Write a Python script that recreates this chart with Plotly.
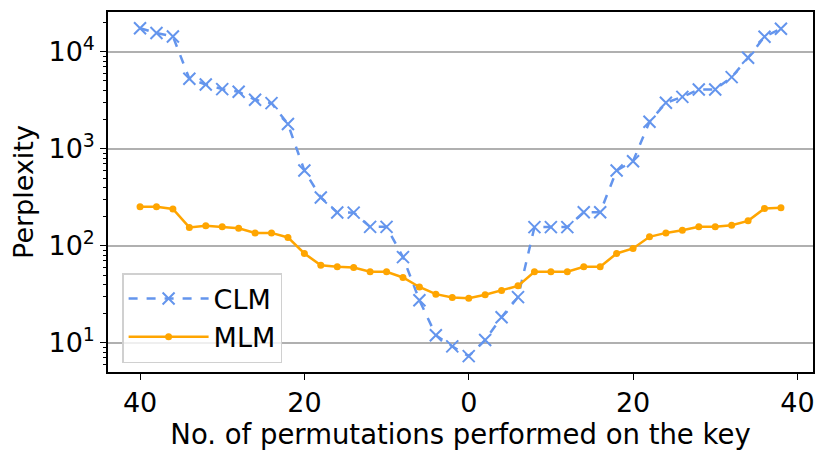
import plotly.graph_objects as go

x_pos = list(range(-40, 40, 2))
clm = [17500, 15600, 14400, 5270, 4600, 4120, 3870, 3200, 2960, 1800,
       597, 315, 221, 220, 157, 157, 76.5, 27.5, 12.0, 9.2,
       7.3, 10.7, 18.4, 29.6, 156, 156, 156, 222, 222, 597,
       746, 1900, 2980, 3430, 4090, 4090, 5480, 8670, 14300, 17300]
mlm = [253, 253, 240, 155, 161, 157, 152, 136, 136, 122,
       83.5, 63.2, 60.8, 59.8, 54, 54, 47.2, 37.7, 31.8, 29.4,
       28.9, 31.3, 34.7, 38.7, 54, 54, 54, 60.8, 60.8, 83.5,
       94, 124, 136, 145, 157, 157, 163, 181, 243, 247]
xtick_vals = [-40, -20, 0, 20, 40]
xtick_text = ["40", "20", "0", "20", "40"]
ytick_vals = [10, 100, 1000, 10000]
ytick_text = ["10<sup>1</sup>", "10<sup>2</sup>", "10<sup>3</sup>", "10<sup>4</sup>"]
minor_vals = [m * 10 ** e for e in range(0, 5) for m in range(2, 10)]

fig = go.Figure()
fig.add_trace(go.Scatter(
    x=x_pos, y=clm, name="CLM", mode="lines+markers", legendgroup="a",
    line=dict(color="#6495ED", width=2.5, dash="dash"),
    marker=dict(symbol="x-thin", size=12, line=dict(color="#6495ED", width=2)),
))
fig.add_trace(go.Scatter(
    x=x_pos, y=mlm, name="MLM", mode="lines+markers", legendgroup="b",
    line=dict(color="#FFA500", width=2.5),
    marker=dict(symbol="circle", size=7, color="#FFA500"),
))

font = "DejaVu Sans"
fig.update_layout(
    width=822, height=449,
    margin=dict(l=100, r=17, t=4, b=85),
    plot_bgcolor="white", paper_bgcolor="white",
    font=dict(family=font, size=27, color="black"),
    showlegend=True,
    legend=dict(
        x=0.02, y=0.025, xanchor="left", yanchor="bottom",
        bgcolor="rgba(255,255,255,0.8)", bordercolor="#d0d0d0", borderwidth=1.5,
        font=dict(size=27), itemwidth=80, tracegroupgap=0,
    ),
    xaxis=dict(
        range=[-43.9, 41.9], tickmode="array", tickvals=xtick_vals, ticktext=xtick_text,
        ticks="outside", ticklen=6, tickwidth=1.2, tickcolor="black",
        showgrid=False, zeroline=False, automargin=False,
        showline=True, linecolor="black", linewidth=1.5, mirror=True,
        title=dict(text="No. of permutations performed on the key", font=dict(size=27.5), standoff=0),
        tickfont=dict(size=27),
    ),
    yaxis=dict(
        type="log", range=[0.70, 4.41], tickmode="array", tickvals=ytick_vals, ticktext=ytick_text,
        ticks="outside", ticklen=6, tickwidth=1.2, tickcolor="black",
        showgrid=True, gridcolor="#b0b0b0", gridwidth=1.5, zeroline=False, automargin=False,
        showline=True, linecolor="black", linewidth=1.5, mirror=True,
        minor=dict(tickmode="array", tickvals=minor_vals, ticks="outside", ticklen=3,
                   tickwidth=1, tickcolor="black", showgrid=False),
        title=dict(text="Perplexity", font=dict(size=27), standoff=8),
        tickfont=dict(size=27),
    ),
)

fig.write_html("out.html")
